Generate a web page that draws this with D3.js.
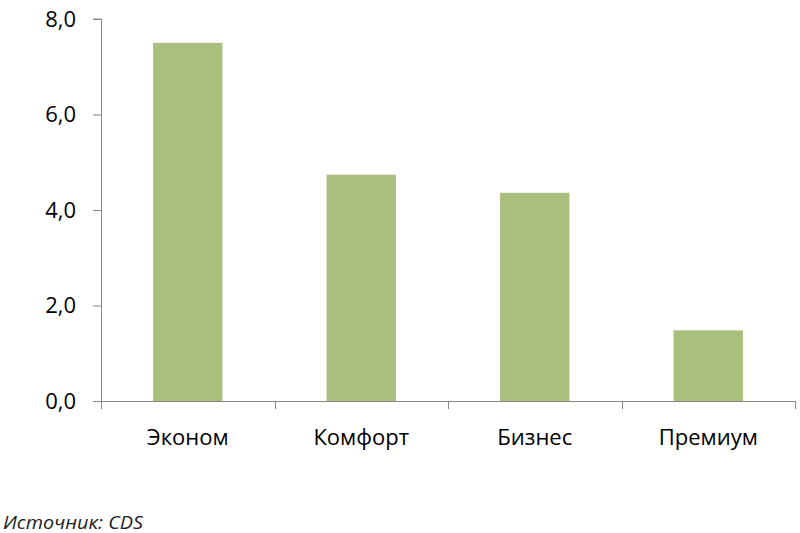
<!DOCTYPE html>
<html><head><meta charset="utf-8">
<script src="https://cdn.jsdelivr.net/npm/d3@7"></script>
<style>body{margin:0;background:#fff}svg{display:block}</style>
</head><body>
<script>
const categories = ["Эконом", "Комфорт", "Бизнес", "Премиум"];
const values = [7.5, 4.74, 4.36, 1.48];
const yTicks = [0, 2, 4, 6, 8];
const source = "Источник: CDS";

const W = 800, H = 533;
const m = {left: 101, right: 5, top: 19, bottom: 132};
const svg = d3.select("body").append("svg").attr("width", W).attr("height", H);

const x = d3.scaleBand().domain(categories).range([m.left, W - m.right]).paddingInner(0.6).paddingOuter(0.3);
const y = d3.scaleLinear().domain([0, 8]).range([H - m.bottom, m.top]);
const font = "'Open Sans', 'Noto Sans', sans-serif";

svg.append("g").selectAll("rect").data(values).join("rect")
  .attr("x", (d, i) => x(categories[i]))
  .attr("width", x.bandwidth())
  .attr("y", d => y(d))
  .attr("height", d => y(0) - y(d))
  .attr("fill", "#a9bf7d");

// y axis
const yAxis = svg.append("g").attr("transform", `translate(${m.left},0)`)
  .call(d3.axisLeft(y).tickValues(yTicks).tickSize(8).tickPadding(17)
    .tickFormat(d => d3.format(".1f")(d).replace(".", ",")));
yAxis.select(".domain").attr("d", `M-8,${y(8)}H0.5V${y(0)}`);
yAxis.selectAll("line").attr("stroke", "#888");
yAxis.select(".domain").attr("stroke", "#888");
yAxis.selectAll("text").attr("font-family", font).attr("font-size", 22).attr("fill", "#000");

// x axis
const xBound = [m.left, ...categories.map(c => x(c) + x.step() * 0.7)];
const xg = svg.append("g");
xg.append("line").attr("x1", m.left).attr("x2", W - m.right).attr("y1", y(0) + 0.5).attr("y2", y(0) + 0.5).attr("stroke", "#888");
xg.selectAll("line.t").data(xBound).join("line").attr("class", "t")
  .attr("x1", d => Math.round(d) + 0.5).attr("x2", d => Math.round(d) + 0.5)
  .attr("y1", y(0)).attr("y2", y(0) + 8).attr("stroke", "#888");
xg.selectAll("text").data(categories).join("text")
  .attr("x", d => x(d) + x.bandwidth() / 2).attr("y", y(0) + 44)
  .attr("text-anchor", "middle").attr("font-family", font).attr("font-size", 22).attr("fill", "#000")
  .text(d => d);

svg.append("text").attr("x", 3).attr("y", 529).attr("font-family", font).attr("font-style", "italic")
  .attr("font-size", 18).attr("fill", "#222").attr("textLength", 140).attr("lengthAdjust", "spacingAndGlyphs")
  .text(source);
</script>
</body></html>
